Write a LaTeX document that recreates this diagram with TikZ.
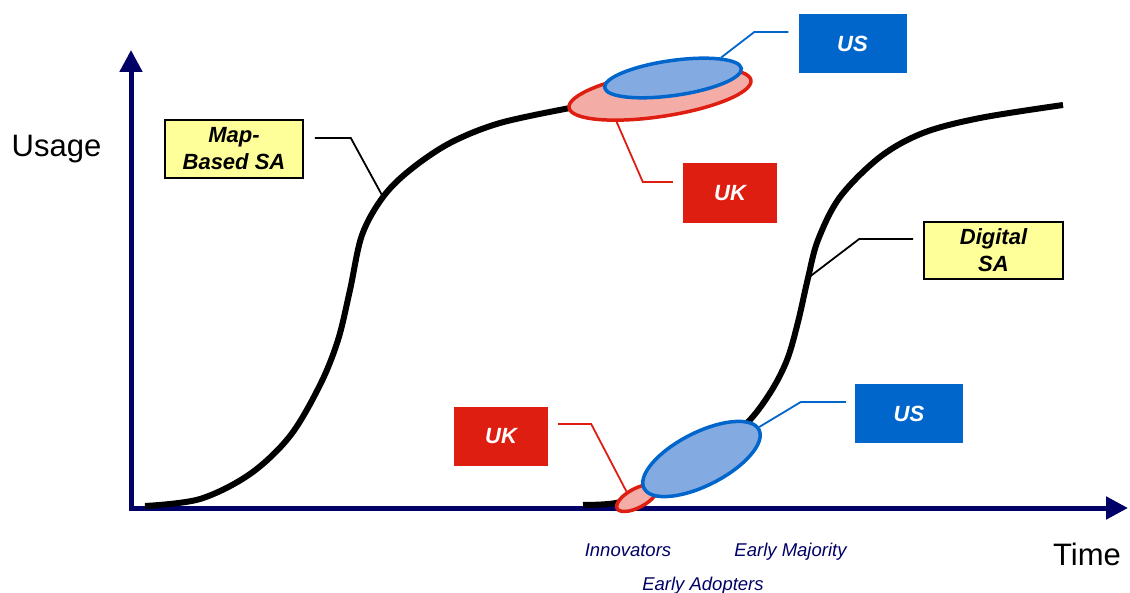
\documentclass[tikz,border=0pt]{standalone}
\usepackage{fontspec}
\setmainfont{Liberation Sans}
\usetikzlibrary{shapes.geometric, arrows.meta}
\definecolor{axisnavy}{HTML}{000066}
\definecolor{ukred}{HTML}{DF1E12}
\definecolor{usblue}{HTML}{0066CC}
\definecolor{ukfill}{HTML}{F4ACA6}
\definecolor{usfill}{HTML}{84AAE2}
\definecolor{notefill}{HTML}{FFFF99}
\tikzstyle{axisline} = [line width=5pt, draw=axisnavy, {Triangle[length=22pt,width=22pt]}-{Triangle[length=22pt,width=22pt]}]
\tikzstyle{growth} = [line width=6pt, draw=black]
\tikzstyle{note} = [rectangle, draw=black, line width=1.6pt, fill=notefill, align=center, font=\fontsize{22}{27}\selectfont\bfseries\itshape]
\tikzstyle{ukbox} = [rectangle, fill=ukred, text=white, minimum width=94pt, minimum height=60pt, font=\fontsize{22}{27}\selectfont\bfseries\itshape]
\tikzstyle{usbox} = [rectangle, fill=usblue, text=white, minimum width=108pt, minimum height=59pt, font=\fontsize{22}{27}\selectfont\bfseries\itshape]
\tikzstyle{ukring} = [ellipse, draw=ukred, line width=3.5pt, fill=ukfill]
\tikzstyle{usring} = [ellipse, draw=usblue, line width=3.5pt, fill=usfill]
\tikzstyle{leader} = [line width=1.8pt]
\tikzstyle{group} = [text=axisnavy, anchor=base, font=\fontsize{18.5}{22}\selectfont\itshape]
\tikzstyle{axislabel} = [anchor=base, font=\fontsize{31}{37}\selectfont]

\begin{document}
\begin{tikzpicture}[x=1pt, y=-1pt]
\useasboundingbox (0,0) rectangle (1130,593);

%% AXES
\coordinate (origin) at (131,508);
\coordinate (yTip) at (131,50);
\coordinate (xTip) at (1128,508);
\draw [axisline] (yTip) -- (origin) -- (xTip);
\node (usage) [axislabel] at (56.5,157) {Usage};
\node (time) [axislabel] at (1087,565) {Time};

%% CURVES
\coordinate (mapPt) at (383,197);
\coordinate (digPt) at (808,278);
\draw [growth] plot[smooth, tension=0.55] coordinates {(145,506) (200,499) (250,474) (290,436) (320,385) (338,340) (350,290) (362,235) (mapPt) (410,170) (450,143) (500,123) (570,108)};
\draw [growth] plot[smooth, tension=0.55] coordinates {(583,505) (616,503) (650,492) (700,460) (745,425) (770,393) (787,360) (798,322) (digPt) (818,240) (840,197) (880,157) (923,133) (980,118) (1063,105)};

%% NODES
\node (ukTopRing) [ukring, minimum width=184pt, minimum height=45pt, rotate=8.6] at (660,94) {};
\node (usTopRing) [usring, minimum width=138pt, minimum height=35pt, rotate=8] at (673,78) {};
\node (ukBotRing) [ukring, minimum width=45pt, minimum height=19pt, rotate=28] at (637,498) {};
\node (usBotRing) [usring, minimum width=129pt, minimum height=53pt, rotate=27] at (701.5,459) {};

\node (mapBox) [note, minimum width=138pt, minimum height=58pt] at (234,149) {Map-\\Based SA};
\node (digBox) [note, minimum width=139pt, minimum height=57pt] at (993.5,250.5) {Digital\\SA};
\node (usTopBox) [usbox] at (852.5,43.5) {US};
\node (ukTopBox) [ukbox] at (730,193) {UK};
\node (ukBotBox) [ukbox, minimum height=59pt] at (501,436.5) {UK};
\node (usBotBox) [usbox] at (909,413.5) {US};

\node (innov) [group] at (628,556) {Innovators};
\node (majority) [group] at (790.5,556) {Early Majority};
\node (adopters) [group] at (703,590) {Early Adopters};

%% LEADERS
\draw [leader] ([xshift=11pt,yshift=11pt]mapBox.east) -- ++(36,0) -- (mapPt);
\draw [leader] ([xshift=-10pt,yshift=11.5pt]digBox.west) -- ++(-54,0) -- (digPt);
\draw [leader, usblue] ([xshift=-10pt,yshift=11.5pt]usTopBox.west) -- ++(-34,0) -- (usTopRing.15);
\draw [leader, ukred] ([xshift=-10pt,yshift=11pt]ukTopBox.west) -- ++(-30,0) -- (ukTopRing.204);
\draw [leader, ukred] ([xshift=10pt,yshift=12.5pt]ukBotBox.east) -- ++(33,0) -- (ukBotRing.120);
\draw [leader, usblue] ([xshift=-9pt,yshift=11.5pt]usBotBox.west) -- ++(-45,0) -- (usBotRing.2);
\end{tikzpicture}
\end{document}
